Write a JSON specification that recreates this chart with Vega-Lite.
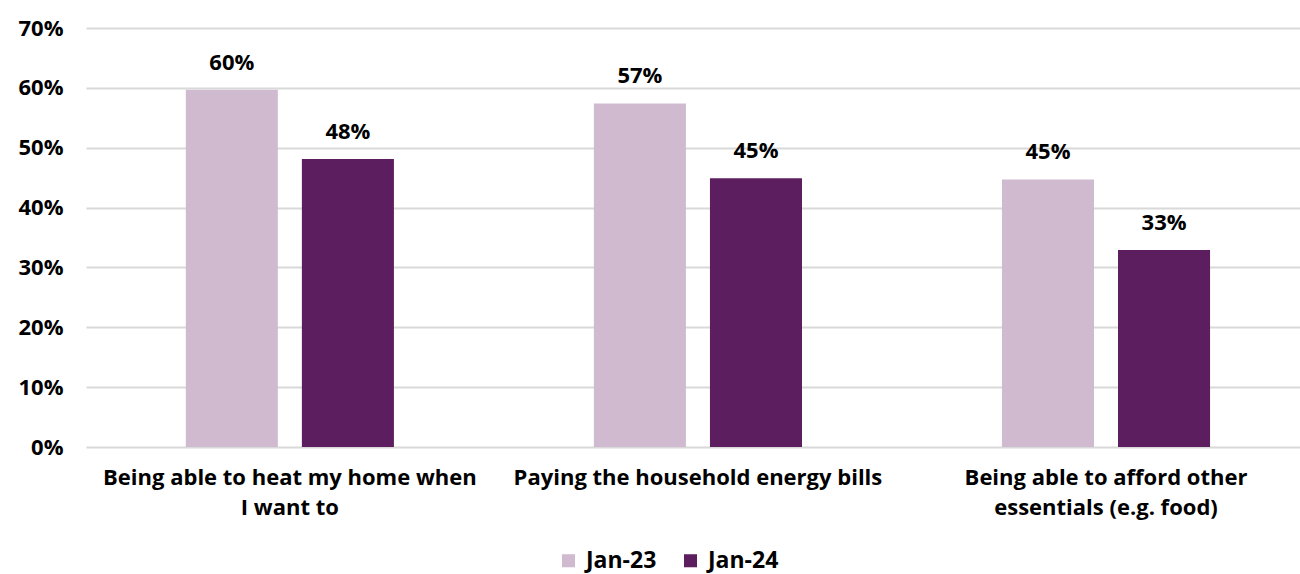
{
  "$schema": "https://vega.github.io/schema/vega-lite/v6.json",
  "autosize": {"type": "none"},
  "padding": {"left": 86, "top": 28, "right": 0, "bottom": 127},
  "width": 1214,
  "height": 419,
  "background": "white",
  "config": {
    "view": {"stroke": null},
    "font": "Open Sans",
    "axis": {"labelFont": "Open Sans", "labelFontWeight": "bold", "labelColor": "#000000", "labelFontSize": 22}
  },
  "data": {
    "values": [
      {"category": "Being able to heat my home when I want to", "period": "Jan-23", "value": 0.597},
      {"category": "Being able to heat my home when I want to", "period": "Jan-24", "value": 0.481},
      {"category": "Paying the household energy bills", "period": "Jan-23", "value": 0.574},
      {"category": "Paying the household energy bills", "period": "Jan-24", "value": 0.449},
      {"category": "Being able to afford other essentials (e.g. food)", "period": "Jan-23", "value": 0.447},
      {"category": "Being able to afford other essentials (e.g. food)", "period": "Jan-24", "value": 0.329}
    ]
  },
  "encoding": {
    "x": {
      "field": "category",
      "type": "nominal",
      "sort": null,
      "title": null,
      "scale": {"paddingInner": 0.49, "paddingOuter": 0.2325, "align": 0.526},
      "axis": {
        "domain": false,
        "ticks": false,
        "grid": false,
        "labelAngle": 0,
        "labelPadding": 20,
        "labelBaseline": "top",
        "labelLineHeight": 30,
        "labelLimit": 500,
        "labelExpr": "datum.value == 'Being able to heat my home when I want to' ? ['Being able to heat my home when', 'I want to'] : datum.value == 'Being able to afford other essentials (e.g. food)' ? ['Being able to afford other', 'essentials (e.g. food)'] : datum.value"
      }
    },
    "xOffset": {
      "field": "period",
      "type": "nominal",
      "scale": {"paddingInner": 0.207, "paddingOuter": 0}
    },
    "y": {
      "field": "value",
      "type": "quantitative",
      "title": null,
      "scale": {"domain": [0, 0.7], "nice": false},
      "axis": {
        "values": [0, 0.1, 0.2, 0.3, 0.4, 0.5, 0.6, 0.7],
        "format": ".0%",
        "domain": false,
        "ticks": false,
        "grid": true,
        "gridColor": "#D9D9D9",
        "gridWidth": 2,
        "labelPadding": 23
      }
    }
  },
  "layer": [
    {
      "mark": {"type": "bar"},
      "encoding": {
        "color": {
          "field": "period",
          "type": "nominal",
          "title": null,
          "scale": {"domain": ["Jan-23", "Jan-24"], "range": ["#CFBAD0", "#5C1E5E"]},
          "legend": {
            "orient": "none",
            "direction": "horizontal",
            "legendX": 471,
            "legendY": 521,
            "symbolType": "square",
            "symbolSize": 170,
            "symbolStrokeWidth": 0,
            "labelFont": "Open Sans",
            "labelFontWeight": "bold",
            "labelFontSize": 23,
            "labelColor": "#000000",
            "labelOffset": 6,
            "columnPadding": 22
          }
        }
      }
    },
    {
      "mark": {"type": "text", "baseline": "alphabetic", "dy": -20, "font": "Open Sans", "fontWeight": "bold", "fontSize": 22, "color": "#000000"},
      "encoding": {
        "text": {"field": "value", "type": "quantitative", "format": ".0%"}
      }
    }
  ]
}
